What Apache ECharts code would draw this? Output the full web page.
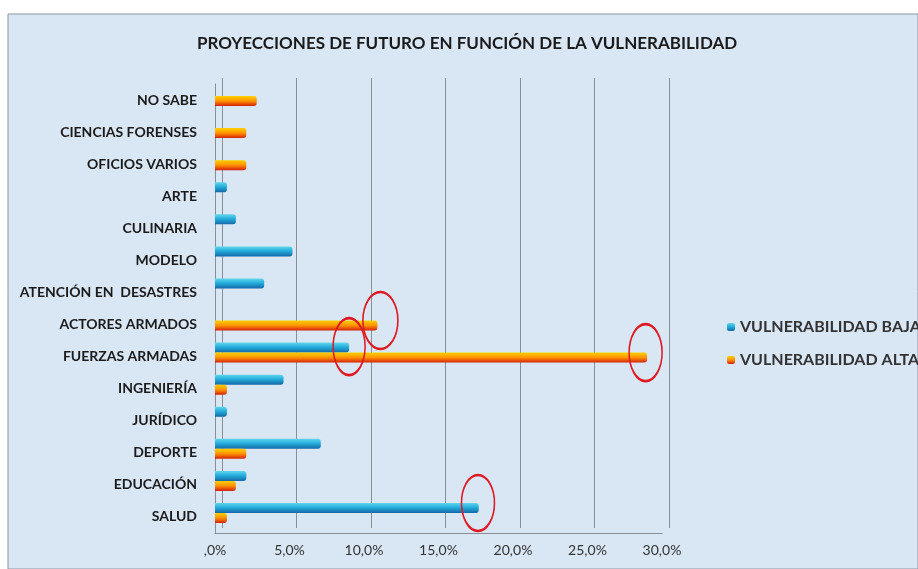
<!DOCTYPE html>
<html>
<head>
<meta charset="utf-8">
<script src="https://cdn.jsdelivr.net/npm/echarts@6/dist/echarts.min.js"></script>
<style>
  html, body { margin: 0; padding: 0; background: #fff; }
  #main { width: 918px; height: 569px; }
</style>
</head>
<body>
<div id="main"></div>
<script>
  // categorias de abajo hacia arriba (SALUD abajo)
  var categories = ['SALUD', 'EDUCACIÓN', 'DEPORTE', 'JURÍDICO', 'INGENIERÍA', 'FUERZAS ARMADAS',
    'ACTORES ARMADOS', 'ATENCIÓN EN  DESASTRES', 'MODELO', 'CULINARIA', 'ARTE', 'OFICIOS VARIOS',
    'CIENCIAS FORENSES', 'NO SABE'];
  var vulnBaja = [17.7, 2.1, 7.1, 0.8, 4.6, 9.0, 0, 3.3, 5.2, 1.4, 0.8, 0, 0, 0];
  var vulnAlta = [0.8, 1.4, 2.1, 0, 0.8, 29.0, 10.9, 0, 0, 0, 0, 2.1, 2.1, 2.8];
  var xTickLabels = [',0%', '5,0%', '10,0%', '15,0%', '20,0%', '25,0%', '30,0%'];

  var chart = echarts.init(document.getElementById('main'));

  var azul = new echarts.graphic.LinearGradient(0, 0, 0, 1, [
    { offset: 0, color: '#62d6ee' },
    { offset: 0.45, color: '#24aedb' },
    { offset: 1, color: '#1468a8' }
  ]);
  var naranja = new echarts.graphic.LinearGradient(0, 0, 0, 1, [
    { offset: 0, color: '#ffd000' },
    { offset: 0.5, color: '#ff9200' },
    { offset: 1, color: '#d4200c' }
  ]);

  var elipse = {
    symbol: 'circle',
    itemStyle: { color: 'rgba(0,0,0,0)', borderColor: '#e01822', borderWidth: 2 },
    label: { show: false }
  };

  var option = {
    backgroundColor: '#fff',
    animation: false,
    graphic: [
      { type: 'rect', shape: { x: 8, y: 14, width: 910, height: 555 },
        style: { fill: '#d9e6f3', stroke: '#8c99a6', lineWidth: 1 }, z: -10 }
    ],
    title: {
      text: 'PROYECCIONES DE FUTURO EN FUNCIÓN DE LA VULNERABILIDAD',
      left: 192, top: 30,
      textStyle: { fontFamily: 'Lato', fontWeight: 'bold', fontSize: 17, color: '#1a1a1a' }
    },
    legend: {
      orient: 'vertical', left: 722, top: 314,
      itemWidth: 8, itemHeight: 8, itemGap: 17,
      data: ['VULNERABILIDAD BAJA', 'VULNERABILIDAD ALTA'],
      textStyle: { fontFamily: 'Lato', fontWeight: 'bold', fontSize: 16, color: '#333' }
    },
    grid: [
      // ejes y etiquetas
      { left: 215, right: 256, top: 84, bottom: 36 },
      // pared del fondo (lineas de division)
      { left: 222, right: 249, top: 78, bottom: 41 },
      // barras (un poco mas arriba por la perspectiva)
      { left: 215, right: 256, top: 80, bottom: 40 }
    ],
    xAxis: [
      {
        type: 'value', gridIndex: 0, min: 0, max: 30, interval: 5,
        axisLine: { show: true, lineStyle: { color: '#8a8f96' } },
        axisTick: { show: false },
        splitLine: { show: false },
        axisLabel: {
          margin: 10, fontFamily: 'Lato', fontSize: 14, color: '#333',
          formatter: function (v) { return xTickLabels[Math.round(v / 5)]; }
        }
      },
      {
        type: 'value', gridIndex: 1, min: 0, max: 30, interval: 5,
        axisLine: { show: false }, axisTick: { show: false }, axisLabel: { show: false },
        splitLine: { show: true, lineStyle: { color: '#8a8f96', width: 1 } }
      },
      {
        type: 'value', gridIndex: 2, min: 0, max: 30, interval: 5, show: false,
        splitLine: { show: false }
      }
    ],
    yAxis: [
      {
        type: 'category', gridIndex: 0, data: categories,
        axisLine: { show: true, lineStyle: { color: '#8a8f96' } },
        axisTick: { show: false },
        axisLabel: { margin: 18, fontFamily: 'Lato', fontWeight: 'bold', fontSize: 14, color: '#1a1a1a' }
      },
      { type: 'category', gridIndex: 1, data: categories, show: false },
      { type: 'category', gridIndex: 2, data: categories, show: false }
    ],
    series: [
      {
        name: 'VULNERABILIDAD BAJA', type: 'bar', data: vulnBaja,
        xAxisIndex: 2, yAxisIndex: 2,
        barWidth: 10, barGap: '0%',
        itemStyle: { color: azul, borderRadius: [0, 3, 3, 0] },
        markPoint: Object.assign({}, elipse, {
          data: [
            { coord: [11.1, 'ACTORES ARMADOS'], symbolSize: [35, 57], symbolOffset: [0, 5] },
            { coord: [9.0, 'FUERZAS ARMADAS'], symbolSize: [32, 57], symbolOffset: [0, -1] },
            { coord: [17.65, 'SALUD'], symbolSize: [33, 56], symbolOffset: [0, -5] }
          ]
        })
      },
      {
        name: 'VULNERABILIDAD ALTA', type: 'bar', data: vulnAlta,
        xAxisIndex: 2, yAxisIndex: 2,
        barWidth: 10, barGap: '0%',
        itemStyle: { color: naranja, borderRadius: [0, 3, 3, 0] },
        markPoint: Object.assign({}, elipse, {
          data: [
            { coord: [28.9, 'FUERZAS ARMADAS'], symbolSize: [33, 57], symbolOffset: [0, -5] }
          ]
        })
      }
    ]
  };

  chart.setOption(option);
</script>
</body>
</html>
